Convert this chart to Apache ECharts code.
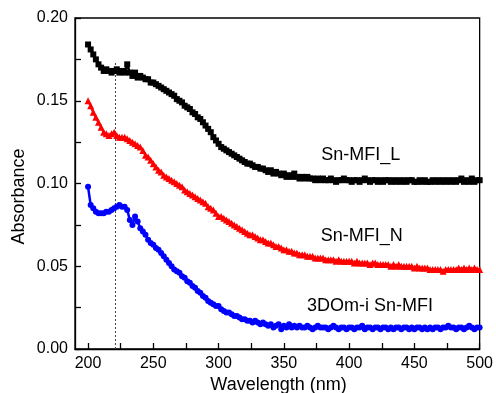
<!DOCTYPE html>
<html>
<head>
<meta charset="utf-8">
<script src="https://cdn.jsdelivr.net/npm/echarts@6/dist/echarts.min.js"></script>
<style>
html,body{margin:0;padding:0;background:#fff;}
#chart{width:496px;height:393px;}
</style>
</head>
<body>
<div id="chart"></div>
<script>
// Sampling grid: 200 nm to 500 nm every 2 nm
var wavelengthStart = 200;
var wavelengthStep = 2;

// Sn-MFI_L (black squares)
var snMfiL = [
0.184,0.181,0.178,0.175,0.172,0.170,0.168,0.169,0.168,0.167,0.168,0.169,0.167,0.168,0.167,0.172,0.167,0.165,0.167,0.164,
0.165,0.164,0.163,0.163,0.161,0.161,0.160,0.159,0.158,0.157,0.156,0.155,0.154,0.153,0.151,0.150,0.149,0.147,0.146,0.145,
0.143,0.142,0.140,0.139,0.137,0.135,0.133,0.131,0.128,0.126,0.124,0.122,0.121,0.120,0.119,0.118,0.117,0.116,0.115,0.114,
0.113,0.112,0.112,0.111,0.110,0.110,0.109,0.109,0.108,0.107,0.108,0.106,0.107,0.106,0.105,0.106,0.104,0.105,0.104,0.106,
0.104,0.103,0.104,0.103,0.104,0.103,0.103,0.102,0.103,0.102,0.103,0.102,0.102,0.103,0.102,0.101,0.102,0.102,0.103,0.102,
0.102,0.101,0.102,0.102,0.101,0.102,0.103,0.102,0.101,0.102,0.102,0.101,0.102,0.101,0.102,0.102,0.101,0.102,0.101,0.102,
0.101,0.102,0.101,0.102,0.102,0.101,0.101,0.102,0.101,0.102,0.101,0.101,0.102,0.101,0.102,0.101,0.102,0.101,0.102,0.101,
0.102,0.101,0.102,0.103,0.101,0.102,0.101,0.103,0.101,0.102,0.102
];

// Sn-MFI_N (red triangles)
var snMfiN = [
0.150,0.147,0.143,0.140,0.137,0.134,0.131,0.130,0.129,0.130,0.131,0.129,0.128,0.128,0.128,0.127,0.126,0.125,0.124,0.123,
0.122,0.120,0.117,0.116,0.114,0.112,0.110,0.108,0.107,0.105,0.104,0.103,0.102,0.101,0.100,0.099,0.098,0.096,0.095,0.094,
0.093,0.092,0.091,0.090,0.089,0.088,0.086,0.085,0.084,0.082,0.080,0.080,0.079,0.078,0.077,0.076,0.075,0.074,0.073,0.072,
0.071,0.070,0.069,0.069,0.068,0.067,0.066,0.066,0.065,0.064,0.064,0.063,0.062,0.062,0.061,0.060,0.060,0.059,0.059,0.058,
0.058,0.057,0.057,0.057,0.056,0.056,0.056,0.055,0.055,0.055,0.055,0.054,0.054,0.054,0.054,0.053,0.054,0.053,0.053,0.053,
0.053,0.053,0.052,0.053,0.052,0.052,0.052,0.052,0.051,0.052,0.052,0.051,0.051,0.051,0.051,0.051,0.050,0.051,0.050,0.051,
0.050,0.050,0.050,0.050,0.050,0.049,0.050,0.049,0.049,0.049,0.049,0.048,0.048,0.048,0.048,0.048,0.047,0.048,0.048,0.048,
0.048,0.048,0.049,0.048,0.049,0.048,0.049,0.048,0.049,0.048,0.048
];

// 3DOm-i Sn-MFI (blue circles)
var dom3SnMfi = [
0.098,0.087,0.085,0.083,0.082,0.082,0.082,0.083,0.083,0.084,0.085,0.086,0.087,0.086,0.086,0.084,0.078,0.075,0.080,0.077,
0.073,0.071,0.069,0.066,0.064,0.063,0.061,0.060,0.058,0.056,0.054,0.052,0.050,0.048,0.047,0.046,0.044,0.043,0.041,0.040,
0.038,0.037,0.035,0.034,0.032,0.031,0.029,0.028,0.027,0.026,0.026,0.024,0.023,0.022,0.022,0.021,0.020,0.020,0.019,0.018,
0.018,0.017,0.017,0.016,0.017,0.016,0.015,0.016,0.015,0.014,0.015,0.013,0.014,0.015,0.012,0.014,0.013,0.015,0.013,0.014,
0.013,0.014,0.013,0.013,0.014,0.013,0.012,0.013,0.014,0.013,0.013,0.013,0.012,0.013,0.014,0.013,0.012,0.013,0.013,0.012,
0.013,0.013,0.012,0.013,0.013,0.014,0.012,0.013,0.013,0.012,0.013,0.013,0.012,0.013,0.013,0.012,0.013,0.012,0.013,0.013,
0.012,0.013,0.013,0.012,0.013,0.012,0.013,0.013,0.012,0.013,0.012,0.013,0.012,0.013,0.013,0.012,0.013,0.013,0.014,0.013,
0.013,0.012,0.013,0.013,0.012,0.013,0.014,0.013,0.012,0.013,0.013
];

// Axis ticks / labels
var xLabelValues = [200, 250, 300, 350, 400, 450, 500];
var xTickValues = [200, 225, 250, 275, 300, 325, 350, 375, 400, 425, 450, 475, 500];
var yLabelValues = [0, 0.05, 0.10, 0.15, 0.20];

// Dotted guide line
var guideX = [221, 221];
var guideY = [0, 0.174];

// Curve annotations
var annotationText = ['Sn-MFI_L', 'Sn-MFI_N', '3DOm-i Sn-MFI'];
var annotationX = [409, 409.7, 416];
var annotationY = [0.1172, 0.0682, 0.0257];

function pairs(values) {
  var out = [];
  for (var i = 0; i < values.length; i++) {
    out.push([wavelengthStart + i * wavelengthStep, values[i]]);
  }
  return out;
}

var FONT = 'Arial, "Liberation Sans", sans-serif';
var chart = echarts.init(document.getElementById('chart'), null, {renderer: 'canvas'});

var annData = [];
for (var k = 0; k < annotationText.length; k++) {
  annData.push({value: [annotationX[k], annotationY[k]], name: annotationText[k]});
}

var option = {
  animation: false,
  backgroundColor: '#ffffff',
  grid: {
    left: 75, right: 14, top: 18, bottom: 44,
    show: true, borderColor: '#000', borderWidth: 1.3, backgroundColor: 'transparent'
  },
  xAxis: {
    type: 'value', min: 190, max: 500,
    axisLine: {show: true, onZero: false, lineStyle: {color: '#000', width: 1.3}},
    axisTick: {show: true, inside: true, length: 6, customValues: xTickValues, lineStyle: {color: '#000', width: 1.3}},
    axisLabel: {show: true, customValues: xLabelValues, color: '#000', fontSize: 16, fontFamily: FONT, margin: 7},
    splitLine: {show: false}
  },
  yAxis: {
    type: 'value', min: 0, max: 0.2, interval: 0.025,
    axisLine: {show: true, lineStyle: {color: '#000', width: 1.3}},
    axisTick: {show: true, inside: true, length: 6, lineStyle: {color: '#000', width: 1.3}},
    axisLabel: {show: true, customValues: yLabelValues, color: '#000', fontSize: 16, fontFamily: FONT, margin: 7,
      formatter: function (v) { return v.toFixed(2); }},
    splitLine: {show: false}
  },
  graphic: [
    {type: 'text', x: 19.5, y: 196.5, rotation: Math.PI / 2,
      style: {text: 'Absorbance', fill: '#000', font: '18px ' + FONT, align: 'center', verticalAlign: 'middle'}},
    {type: 'text', x: 278.5, y: 385, 
      style: {text: 'Wavelength (nm)', fill: '#000', font: '18px ' + FONT, align: 'center', verticalAlign: 'middle'}}
  ],
  series: [
    {
      type: 'line', data: pairs(snMfiL), color: '#000000',
      symbol: 'rect', symbolSize: 6, showAllSymbol: true,
      lineStyle: {width: 2.5, color: '#000'}, itemStyle: {color: '#000'}, z: 3
    },
    {
      type: 'line', data: pairs(snMfiN), color: '#ff0000',
      symbol: 'triangle', symbolSize: 7, showAllSymbol: true,
      lineStyle: {width: 2.5, color: '#ff0000'}, itemStyle: {color: '#ff0000'}, z: 3
    },
    {
      type: 'line', data: pairs(dom3SnMfi), color: '#0000ff',
      symbol: 'circle', symbolSize: 6, showAllSymbol: true,
      lineStyle: {width: 2.5, color: '#0000ff'}, itemStyle: {color: '#0000ff'}, z: 3
    },
    {
      type: 'line', data: [[guideX[0], guideY[0]], [guideX[1], guideY[1]]],
      symbol: 'none', lineStyle: {type: [2, 2], width: 1, color: '#444'}, z: 2, silent: true
    },
    {
      type: 'scatter', data: annData, symbolSize: 0, silent: true,
      itemStyle: {opacity: 1, color: '#000'},
      label: {show: true, position: 'inside', formatter: function (p) { return p.name; },
        color: '#000', opacity: 1, fontSize: 18, fontFamily: FONT, textBorderWidth: 0}
    }
  ]
};
chart.setOption(option);
</script>
</body>
</html>
